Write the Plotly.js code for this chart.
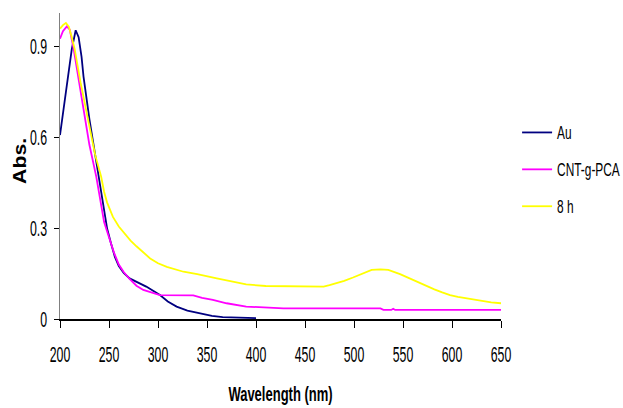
<!DOCTYPE html>
<html>
<head>
<meta charset="utf-8">
<script src="https://cdn.plot.ly/plotly-3.0.1.min.js"></script>
<style>html,body{margin:0;padding:0;background:#fff;}#chart{width:623px;height:408px;}</style>
</head>
<body>
<div id="chart"></div>
<script>
// Au
const auX = [200, 204, 208, 212, 216, 219, 222, 224, 230, 235, 239, 244, 248, 252, 256, 260, 265, 271, 280, 288, 295, 302, 310, 319, 330, 343, 355, 366, 380, 400];
const auY = [0.607, 0.70, 0.80, 0.89, 0.953, 0.93, 0.865, 0.80, 0.66, 0.56, 0.47, 0.38, 0.30, 0.25, 0.205, 0.175, 0.152, 0.134, 0.12, 0.107, 0.093, 0.079, 0.058, 0.041, 0.028, 0.019, 0.010, 0.006, 0.004, 0.003];
// CNT-g-PCA
const cntX = [200, 203, 207, 210, 214, 219, 224, 230, 237, 241, 245, 250, 255, 260, 265, 271, 278, 285, 295, 302, 336, 345, 356, 370, 390, 410, 428, 500, 527, 530, 538, 540, 542, 650];
const cntY = [0.925, 0.95, 0.966, 0.955, 0.89, 0.79, 0.68, 0.575, 0.47, 0.39, 0.32, 0.27, 0.22, 0.18, 0.155, 0.132, 0.11, 0.096, 0.085, 0.079, 0.078, 0.07, 0.063, 0.052, 0.041, 0.038, 0.035, 0.035, 0.035, 0.030, 0.030, 0.034, 0.030, 0.030];
// 8 h
const h8X = [200, 203, 206, 209, 212, 215, 221, 226, 231, 236, 242, 245, 248, 254, 260, 266, 272, 278, 285, 292, 300, 309, 326, 340, 360, 375, 390, 410, 445, 469, 475, 482, 490, 499, 508, 518, 527, 535, 547, 555, 564, 573, 582, 590, 598, 606, 615, 628, 640, 650];
const h8Y = [0.958, 0.97, 0.977, 0.965, 0.93, 0.89, 0.78, 0.70, 0.62, 0.54, 0.47, 0.42, 0.385, 0.337, 0.305, 0.28, 0.259, 0.24, 0.22, 0.20, 0.184, 0.172, 0.156, 0.148, 0.134, 0.124, 0.114, 0.109, 0.107, 0.107, 0.112, 0.118, 0.126, 0.137, 0.15, 0.162, 0.164, 0.162, 0.148, 0.136, 0.123, 0.11, 0.098, 0.088, 0.079, 0.073, 0.068, 0.06, 0.055, 0.052];

const seriesNames = ["Au", "CNT-g-PCA", "8 h"];
const xTicks = [200, 250, 300, 350, 400, 450, 500, 550, 600, 650];
const yTicks = [0, 0.3, 0.6, 0.9];
const yTickText = ["0", "0.3", "0.6", "0.9"];
const yTitle = "Abs.";
const xTitle = "Wavelength (nm)";

const sans = '"Liberation Sans", Arial, sans-serif';

const traces = [
  {x: auX, y: auY, name: seriesNames[0], color: "#000080", g: "a"},
  {x: cntX, y: cntY, name: seriesNames[1], color: "#FF00FF", g: "b"},
  {x: h8X, y: h8Y, name: seriesNames[2], color: "#FFFF00", g: "c"}
].map(t => ({
  x: t.x, y: t.y, name: t.name, type: "scatter", mode: "lines",
  line: {color: t.color, width: 1.8, shape: "linear"},
  legendgroup: t.g
}));

const layout = {
  width: 623, height: 408,
  margin: {l: 60, r: 122, t: 13, b: 89},
  paper_bgcolor: "#ffffff", plot_bgcolor: "#ffffff",
  showlegend: true,
  legend: {
    xref: "container", yref: "container",
    x: 0.830, y: 0.72, xanchor: "left", yanchor: "top",
    font: {family: sans, size: 18, color: "#000"},
    tracegroupgap: 10.5, bgcolor: "rgba(0,0,0,0)"
  },
  xaxis: {
    range: [200, 650], tickvals: xTicks, ticktext: xTicks.map(String),
    showgrid: false, zeroline: false,
    showline: true, linecolor: "#000000", linewidth: 1.5,
    ticks: "outside", ticklen: 7, tickcolor: "#000", tickwidth: 1,
    ticklabelstandoff: 8,
    tickfont: {family: sans, size: 22, color: "#000"},
    title: {text: "<b>" + xTitle + "</b>", font: {family: sans, size: 20, color: "#000"}, standoff: 21}
  },
  yaxis: {
    range: [0, 1.01], tickvals: yTicks, ticktext: yTickText,
    showgrid: false, zeroline: false,
    showline: true, linecolor: "#808080", linewidth: 1.5,
    ticks: "outside", ticklen: 5, tickcolor: "#000", tickwidth: 1,
    ticklabelstandoff: 2,
    tickfont: {family: sans, size: 22, color: "#000"}
  },
  annotations: [{
    text: "<b>" + yTitle + "</b>", textangle: -90,
    xref: "paper", yref: "paper", x: -0.0907, y: 0.515,
    xanchor: "center", yanchor: "middle", showarrow: false,
    font: {family: sans, size: 18, color: "#000"}
  }]
};

function condense(selector, factor) {
  document.querySelectorAll(selector).forEach(el => {
    const w = el.getComputedTextLength();
    if (w > 0) {
      el.setAttribute("textLength", (w * factor).toFixed(2));
      el.setAttribute("lengthAdjust", "spacingAndGlyphs");
    }
  });
}

Plotly.newPlot("chart", traces, layout, {displayModeBar: false, staticPlot: true}).then(() => {
  condense("#chart .xtick text, #chart .ytick text", 0.56);
  condense("#chart .legendtext", 0.66);
  document.querySelectorAll("#chart .legend [clip-path]").forEach(el => el.removeAttribute("clip-path"));
  condense("#chart .g-xtitle text", 0.65);
  condense("#chart .annotation-text", 1.18);
});
</script>
</body>
</html>
